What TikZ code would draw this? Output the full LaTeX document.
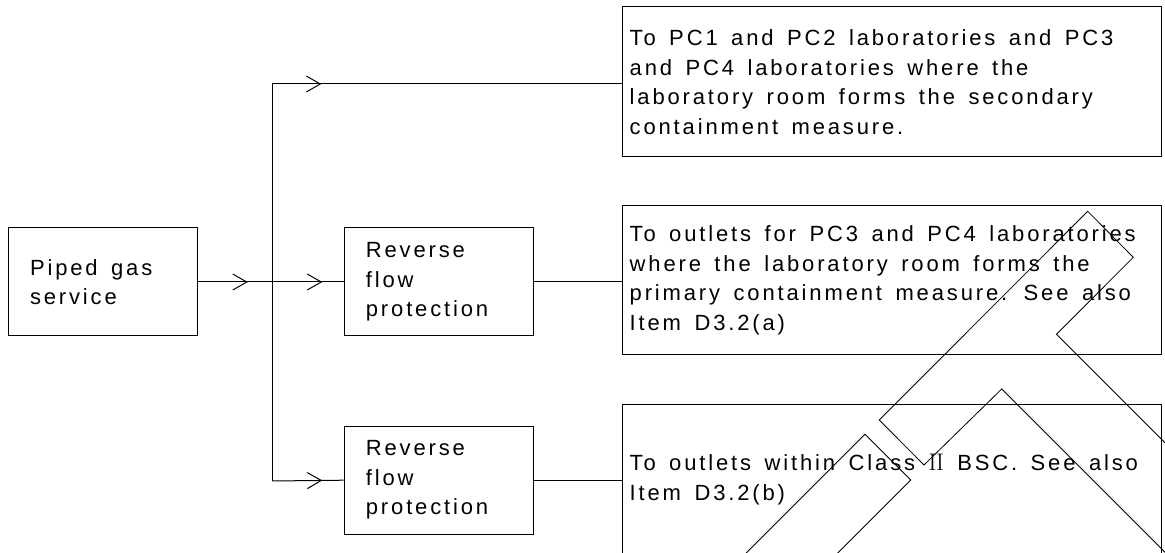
\documentclass[tikz,border=0pt]{standalone}
\usepackage{fontspec}
\setsansfont{Liberation Sans}[LetterSpace=13, WordSpace=1.5]
\usetikzlibrary{arrows.meta,decorations.markings}

\tikzset{
  pipe/.style={line width=1pt},
  boxshape/.style={draw, line width=1pt, inner sep=0pt},
  label text/.style={inner sep=0pt, align=left,
    font=\sffamily\fontsize{22}{29.5}\selectfont},
  chevron/.style={postaction={decorate},
    decoration={markings, mark=at position #1 with
      {\arrow{Straight Barb[length=14pt,width=16pt,line width=1pt]}}}},
  stroke/.style={line width=0.8pt},
}
\newcommand{\romantwo}{{\rmfamily\fontsize{24}{29.5}\selectfont I\kern-0.5pt I}}

\begin{document}
\begin{tikzpicture}[x=1pt,y=-1pt]
\useasboundingbox (0,0) rectangle (1165,553);
\clip (0,0) rectangle (1165,553);

% supply and reverse-flow boxes
\node[boxshape, minimum width=189pt, minimum height=108pt] (gas) at (102.8,282) {};
\node[label text, anchor=west] (gastext) at ([xshift=22pt]gas.west) {Piped gas\\service};

\node[boxshape, minimum width=189pt, minimum height=108pt] (rfp1) at (438.7,282) {};
\node[label text, anchor=west] (rfp1text) at ([xshift=22pt]rfp1.west) {Reverse\\flow\\protection};

\node[boxshape, minimum width=189pt, minimum height=108pt] (rfp2) at (438.7,480.2) {};
\node[label text, anchor=west] (rfp2text) at ([xshift=22pt]rfp2.west) {Reverse\\flow\\protection};

% outlet boxes
\node[boxshape, minimum width=539pt, minimum height=150pt] (out1) at (891.5,82) {};
\node[label text, anchor=west] (out1text) at ([xshift=8pt]out1.west)
  {To PC1 and PC2 laboratories and PC3\\and PC4 laboratories where the\\laboratory room forms the secondary\\containment measure.};

\node[boxshape, minimum width=539pt, minimum height=149pt] (out2) at (891.5,280.5) {};
\node[label text, anchor=west] (out2text) at ([xshift=8pt]out2.west)
  {To outlets for PC3 and PC4 laboratories\\where the laboratory room forms the\\primary containment measure. See also\\Item D3.2(a)};

\node[boxshape, minimum width=539pt, minimum height=151pt] (out3) at (891.5,479.5) {};
\node[label text, anchor=west] (out3text) at ([xshift=8pt]out3.west)
  {To outlets within Class \romantwo{} BSC. See also\\Item D3.2(b)};

% distribution trunk
\coordinate (jtop) at (272.3,84);
\coordinate (jmid) at (272.3,282);
\coordinate (jbot) at (272.3,481);

\draw[pipe, chevron=50pt] (gas.east) -- (jmid);
\draw[pipe] (jtop) -- (jbot);
\draw[pipe, chevron=49pt] (jtop) -- (jtop -| out1.west);
\draw[pipe, chevron=50pt] (jmid) -- (rfp1.west);
\draw[pipe, chevron=50pt] (jbot) -- (rfp2.west);
\draw[pipe] (rfp1.east) -- (rfp1.east -| out2.west);
\draw[pipe] (rfp2.east) -- (rfp2.east -| out3.west);

% stray diagonal strokes over the outlet boxes
\draw[stroke] (1220,497.8) -- (1056.5,334.3) -- (1133.3,257.3) -- (1087.7,211.3)
  -- (879.3,420) -- (924,465) -- (1001.7,389) -- (1172.7,560);
\draw[stroke] (739.3,560) -- (865,434.3) -- (910.7,480) -- (830.7,560);
\end{tikzpicture}
\end{document}
